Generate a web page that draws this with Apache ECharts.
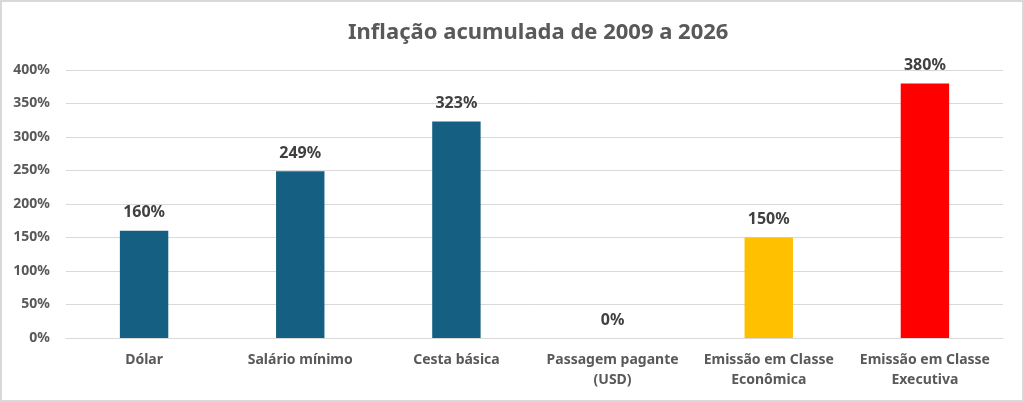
<!DOCTYPE html>
<html>
<head>
<meta charset="utf-8">
<script src="https://cdn.jsdelivr.net/npm/echarts@6/dist/echarts.min.js"></script>
<style>
html,body{margin:0;padding:0;background:#fff;}
#c{width:1024px;height:402px;box-sizing:border-box;border:2px solid #d9d9d9;}
</style>
</head>
<body>
<div id="c"></div>
<script>
const categories = ['Dólar','Salário mínimo','Cesta básica','Passagem pagante\n(USD)','Emissão em Classe\nEconômica','Emissão em Classe\nExecutiva'];
const values = [160, 249, 323, 0, 150, 380];
const colors = ['#156082','#156082','#156082','#156082','#FFC000','#FF0000'];
const title = 'Inflação acumulada de 2009 a 2026';

const chart = echarts.init(document.getElementById('c'), null, {renderer:'canvas'});
const font = '"Noto Sans", "Open Sans", sans-serif';
chart.setOption({
  animation:false,
  textStyle:{fontFamily:font},
  title:{text:title,left:341,top:15,textStyle:{fontFamily:font,fontSize:22,fontWeight:'bold',color:'#595959'}},
  grid:{left:64,right:19,top:68,bottom:62,containLabel:false},
  xAxis:{type:'category',data:categories,
    axisLine:{lineStyle:{color:'#d9d9d9',width:1}},
    axisTick:{show:false},
    axisLabel:{fontFamily:font,fontSize:14,fontWeight:'bold',color:'#595959',margin:12,lineHeight:20,interval:0}},
  yAxis:{type:'value',min:0,max:400,interval:50,
    axisLine:{show:false},axisTick:{show:false},
    splitLine:{lineStyle:{color:'#d9d9d9',width:1}},
    axisLabel:{fontFamily:font,fontSize:14,fontWeight:'bold',color:'#595959',margin:16,formatter:'{value}%'}},
  series:[{type:'bar',barWidth:'31%',
    data:values.map((v,i)=>({value:v,itemStyle:{color:colors[i]}})),
    label:{show:true,position:'top',distance:10,formatter:'{c}%',fontFamily:font,fontSize:16,fontWeight:'bold',color:'#404040'}}]
});
</script>
</body>
</html>
